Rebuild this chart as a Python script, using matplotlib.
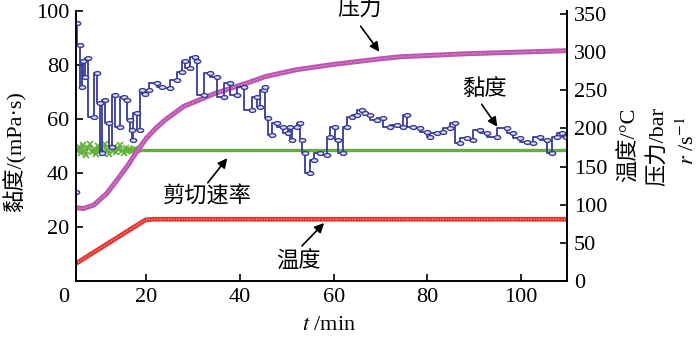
import matplotlib
matplotlib.use("Agg")
import matplotlib.pyplot as plt
from matplotlib.path import Path
from matplotlib.transforms import Affine2D

plt.rcParams["font.family"] = ["Liberation Serif", "Noto Sans CJK SC"]
plt.rcParams["mathtext.fontset"] = "stix"
plt.rcParams["font.size"] = 16

# ---- data -------------------------------------------------------------
# viscosity (mPa·s, left axis)
visc_t = [5.0, 5.22, 5.95, 6.32, 6.53, 7.02, 7.66, 8.79, 9.51, 10.22, 10.58,
          11.28, 11.99, 12.71, 13.42, 14.48, 15.19, 15.91, 16.61, 16.98, 17.25,
          18.04, 18.75, 19.11, 19.81, 20.52, 22.31, 23.37, 25.14, 26.57, 27.64,
          28.34, 29.41, 30.47, 30.84, 32.24, 33.67, 35.10, 36.51, 37.94, 39.36,
          40.77, 42.56, 43.63, 44.33, 45.04, 45.40, 46.04, 46.83, 47.89, 49.24,
          50.30, 50.73, 51.09, 52.16, 52.86, 53.22, 53.93, 55.0, 55.7, 57.13,
          58.55, 59.26, 60.32, 60.96, 62.09, 62.82, 63.88, 64.95, 66.02, 66.72,
          67.79, 69.22, 70.62, 72.05, 73.48, 74.89, 75.61, 77.02, 78.45, 79.88,
          80.58, 82.01, 83.42, 84.85, 85.91, 86.98, 88.41, 89.81, 91.24, 92.67,
          94.80, 96.93, 98.34, 99.77, 101.20, 102.60, 104.03, 105.46, 106.53,
          107.60, 108.66, 109.58]
visc = [33.1, 95.5, 87.4, 72.0, 81.3, 75.6, 82.7, 60.9, 77.0, 65.9, 47.3,
        67.0, 58.4, 49.8, 68.9, 57.2, 68.2, 67.0, 59.7, 55.9, 52.1,
        62.1, 55.9, 70.8, 69.4, 70.8, 73.2, 72.0, 71.4, 74.4, 77.5,
        81.3, 78.8, 83.1, 81.3, 68.9, 76.9, 75.7, 68.2, 73.2, 68.9,
        72.0, 63.3, 68.2, 64.6, 70.8, 72.0, 60.3, 54.2, 58.4, 57.2,
        54.8, 57.2, 52.1, 57.2, 58.4, 52.1, 47.3, 39.9, 44.8, 47.3,
        46.6, 53.5, 57.2, 52.1, 47.3, 57.2, 60.9, 61.5, 63.3, 62.2,
        61.5, 59.7, 60.3, 57.2, 57.7, 57.2, 61.5, 57.2, 56.5, 55.3,
        53.5, 54.7, 55.3, 56.5, 58.4, 51.0, 52.8, 52.1, 55.9, 54.7,
        53.5, 56.5, 54.7, 52.8, 51.6, 51.0, 53.5, 52.1, 47.3,
        53.5, 54.7, 53.2]

# pressure (bar, right axis)
pres_t = [5.0, 5.2, 6.6, 8.8, 11.6, 13.7, 16.0, 18.0, 20.0, 22.0, 24.0, 28.0,
          34.7, 42.2, 45.4, 52.0, 60.0, 69.5, 74.2, 88.4, 109.8]
pres = [97, 96, 95, 99.6, 115, 132, 151, 170, 187, 200, 211, 229,
        246, 261, 268, 277, 284, 291, 294, 298, 302]

# temperature (°C, right axis)
temp_t = [5.0, 19.8, 21.5, 109.8]
temp = [23, 80, 81, 81]

# shear rate (s^-1, right axis): scattered start, then constant
shear_t_early = [5.2, 5.6, 6.0, 6.4, 6.8, 7.2, 7.6, 8.0, 8.4, 8.8, 9.2, 9.6,
                 10.0, 10.4, 10.8, 11.2, 11.6, 12.0, 12.4, 12.8, 13.2, 13.6,
                 14.0, 14.4, 14.8, 15.2, 15.6, 16.0, 16.4, 16.8, 17.2, 17.6,
                 18.0]
shear_early = [170, 176, 168, 178, 171, 165, 175, 180, 169, 173, 166, 177,
               171, 174, 168, 179, 172, 167, 175, 170, 176, 169, 173, 178,
               171, 168, 174, 170, 173, 171, 172, 173, 172]
shear_t = [18.0, 109.8]
shear = [172, 172]

x_ticks = [20, 40, 60, 80, 100]
visc_ticks = [0, 20, 40, 60, 80, 100]
visc_tick_labels = ["", "20", "40", "60", "80", "100"]
right_ticks = [0, 50, 100, 150, 200, 250, 300, 350]

# ---- figure -----------------------------------------------------------
W, H = 700, 350
fig = plt.figure(figsize=(7, 3.5), dpi=100)
ax = fig.add_axes([76 / W, 1 - 281 / H, (567 - 76) / W, (281 - 11) / H])
ax2 = ax.twinx()
ax.set_zorder(ax2.get_zorder() + 1)
ax.patch.set_visible(False)

blue = "#383c96"
green = "#62b03c"
red = "#e2332f"
magenta = "#bb55b0"

# right-axis series
ax2.plot(shear_t_early, shear_early, color=green, lw=1.0, marker="x",
         ms=4, mew=1.2, ls="-")
ax2.plot(shear_t, shear, color=green, lw=2.4, solid_capstyle="butt")
ax2.plot(pres_t, pres, color=magenta, lw=3.6, solid_capstyle="butt",
         solid_joinstyle="round")
ax2.plot(pres_t, pres, color="#e6a8de", lw=0.9, dashes=(0.8, 1.4))
ax2.plot(temp_t, temp, color=red, lw=3.4, solid_capstyle="butt")
ax2.plot(temp_t, temp, color="#f7b3b0", lw=0.9, dashes=(0.8, 1.4))

# viscosity: stepped trace with small oval markers
oval = Path.unit_circle().transformed(Affine2D().scale(1.0, 0.6))
ax.plot(visc_t, visc, color=blue, lw=1.3, drawstyle="steps-pre",
        marker=oval, ms=4.6, mfc="#e2e2f4", mec=blue, mew=1.0)

# axes limits and ticks
ax.set_xlim(5.0, 109.8)
ax.set_ylim(0, 100)
ax2.set_ylim(0, 354)
ax.set_xticks(x_ticks)
ax.set_yticks(visc_ticks)
ax.set_yticklabels(visc_tick_labels)
ax2.set_yticks(right_ticks)

for a in (ax, ax2):
    a.spines["top"].set_visible(False)
    for s in a.spines.values():
        s.set_linewidth(1.2)
ax.tick_params(axis="both", direction="in", length=5, width=1.2,
               labelsize=16, pad=5)
ax2.tick_params(axis="y", direction="in", length=5, width=1.2,
                labelsize=16, pad=5)

# axis titles
fig.text(64 / W, 1 - 297 / H, "0", ha="center", va="center", fontsize=16)
fig.text(329 / W, 1 - 325 / H, "$t$ /min", ha="center", va="center",
         fontsize=16)
fig.text(15 / W, 1 - 152 / H, "黏度/(mPa·s)", rotation=90,
         ha="center", va="center", fontsize=16)
fig.text(629 / W, 1 - 145 / H, "温度/°C", rotation=90,
         ha="center", va="center", fontsize=16)
fig.text(658 / W, 1 - 147 / H, "压力/bar", rotation=90,
         ha="center", va="center", fontsize=16)
fig.text(688 / W, 1 - 141 / H, "$r$ /s$^{-1}$", rotation=90,
         ha="center", va="center", fontsize=16)

# series labels with arrows
def label(text, tx, ty, tail, head):
    fig.text(tx / W, 1 - ty / H, text, ha="center", va="center", fontsize=16)
    fig.patches.append(matplotlib.patches.FancyArrowPatch(
        (tail[0] / W, 1 - tail[1] / H), (head[0] / W, 1 - head[1] / H),
        transform=fig.transFigure, arrowstyle="-|>", mutation_scale=14,
        color="black", lw=1.2))

label("压力", 360, 9, (359, 24), (381, 54))
label("黏度", 484, 89, (480, 102), (499, 129))
label("剪切速率", 207, 197, (206, 185), (229, 156))
label("温度", 298, 262, (300, 248), (326, 221))

fig.savefig("out.png", dpi=100)
